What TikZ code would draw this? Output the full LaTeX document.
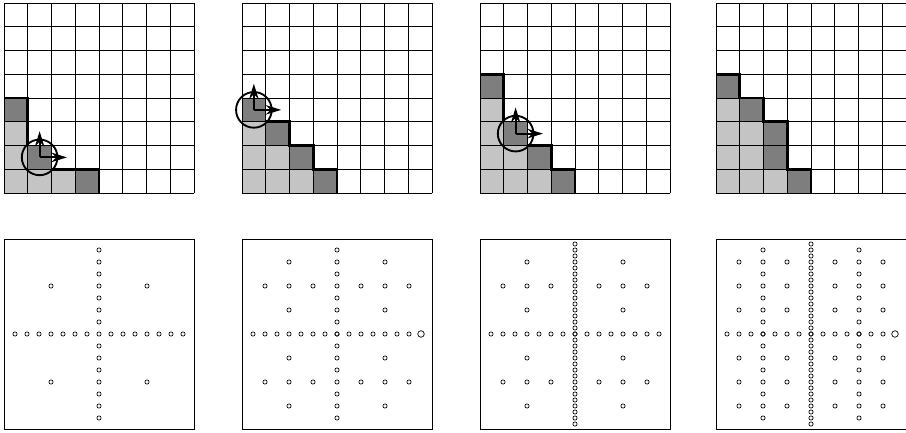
\documentclass[tikz,border=0pt]{standalone}
\usepackage{tikz}
\usetikzlibrary{arrows.meta}
\definecolor{halftone}{HTML}{C4C4C4}
\definecolor{shadow}{HTML}{7E7E7E}

\begin{document}
\begin{tikzpicture}[x=0.03cm, y=0.03cm,
    gridline/.style={black, line width=0.8pt},
    stair/.style={black, line width=2.5pt, line join=miter},
    probe/.style={black, line width=1.6pt},
    probearrow/.style={black, line width=1.6pt, -{Stealth[length=13pt, width=8pt, inset=4pt]}},
    sample/.style={black, line width=0.6pt},
    frame/.style={black, line width=0.8pt}]
    \useasboundingbox (0,0) rectangle (906,433);

    % Top row: staircase on the 8x8 grid
    % Panel 1
    \begin{scope}[shift={(4,240)}, scale=23.75]
        \fill[halftone] (0,0) rectangle (3,1) (0,1) rectangle (1,3);
        \fill[shadow] (0,3) rectangle (1,4) (1,1) rectangle (2,2) (3,0) rectangle (4,1);
        \foreach \k in {0,...,8}
            \draw[gridline] (\k,0) -- (\k,8) (0,\k) -- (8,\k);
        \draw[stair] (0,4) -- (1,4) -- (1,2);
        \draw[stair] (2,1) -- (4,1) -- (4,0);
        \coordinate (p1) at (1.5,1.5);
        \draw[probe] (p1) circle (0.75);
        \draw[probearrow] (p1) -- ++(0,1.1);
        \draw[probearrow] (p1) -- ++(1.15,0);
    \end{scope}

    % Panel 2
    \begin{scope}[shift={(242,240)}, scale=23.75]
        \fill[halftone] (0,0) rectangle (3,1) (0,1) rectangle (2,2) (0,2) rectangle (1,3);
        \fill[shadow] (0,3) rectangle (1,4) (1,2) rectangle (2,3) (2,1) rectangle (3,2) (3,0) rectangle (4,1);
        \foreach \k in {0,...,8}
            \draw[gridline] (\k,0) -- (\k,8) (0,\k) -- (8,\k);
        \draw[stair] (1,3) -- (2,3) -- (2,2) -- (3,2) -- (3,1) -- (4,1) -- (4,0);
        \coordinate (p2) at (0.5,3.5);
        \draw[probe] (p2) circle (0.75);
        \draw[probearrow] (p2) -- ++(0,1.1);
        \draw[probearrow] (p2) -- ++(1.15,0);
    \end{scope}

    % Panel 3
    \begin{scope}[shift={(480,240)}, scale=23.75]
        \fill[halftone] (0,0) rectangle (3,1) (0,1) rectangle (2,2) (0,2) rectangle (1,4);
        \fill[shadow] (0,4) rectangle (1,5) (1,2) rectangle (2,3) (2,1) rectangle (3,2) (3,0) rectangle (4,1);
        \foreach \k in {0,...,8}
            \draw[gridline] (\k,0) -- (\k,8) (0,\k) -- (8,\k);
        \draw[stair] (0,5) -- (1,5) -- (1,3);
        \draw[stair] (2,2) -- (3,2) -- (3,1) -- (4,1) -- (4,0);
        \coordinate (p3) at (1.5,2.5);
        \draw[probe] (p3) circle (0.75);
        \draw[probearrow] (p3) -- ++(0,1.1);
        \draw[probearrow] (p3) -- ++(1.15,0);
    \end{scope}

    % Panel 4
    \begin{scope}[shift={(716,240)}, scale=23.75]
        \fill[halftone] (0,0) rectangle (3,1) (0,1) rectangle (2,3) (0,3) rectangle (1,4);
        \fill[shadow] (0,4) rectangle (1,5) (1,3) rectangle (2,4) (2,1) rectangle (3,3) (3,0) rectangle (4,1);
        \foreach \k in {0,...,8}
            \draw[gridline] (\k,0) -- (\k,8) (0,\k) -- (8,\k);
        \draw[stair] (0,5) -- (1,5) -- (1,4) -- (2,4) -- (2,3) -- (3,3) -- (3,1) -- (4,1) -- (4,0);
    \end{scope}

    % Bottom row: sample points
    \foreach \px in {4,242,480,716}
        \draw[frame] (\px,4) rectangle ++(190,190);

    % Panel 1
    \begin{scope}[shift={(99,99)}, x=0.36cm, y=0.36cm]
        \foreach \k in {-7,...,7}
            \draw[sample] (\k,0) circle[radius=1.8pt] (0,\k) circle[radius=1.8pt];
        \foreach \sx in {-1,1}
            \foreach \sy in {-1,1}
                \draw[sample] (\sx*4,\sy*4) circle[radius=1.8pt];
    \end{scope}

    % Panel 2
    \begin{scope}[shift={(337,99)}, x=0.36cm, y=0.36cm]
        \foreach \k in {-7,...,6}
            \draw[sample] (\k,0) circle[radius=1.8pt];
        \foreach \k in {-7,...,7}
            \draw[sample] (0,\k) circle[radius=1.8pt];
        \foreach \u/\v in {4/4,2/4,6/4,4/2,4/6}
            \foreach \sx in {-1,1}
                \foreach \sy in {-1,1}
                    \draw[sample] (\sx*\u,\sy*\v) circle[radius=1.8pt];
        \draw[sample] (7,0) circle[radius=2.8pt];
    \end{scope}

    % Panel 3
    \begin{scope}[shift={(575,99)}, x=0.36cm, y=0.36cm]
        \foreach \k in {-7,...,7}
            \draw[sample] (\k,0) circle[radius=1.8pt];
        \foreach \k in {-7.5,-7,...,7.5}
            \draw[sample] (0,\k) circle[radius=1.8pt];
        \foreach \u/\v in {4/4,2/4,6/4,4/2,4/6}
            \foreach \sx in {-1,1}
                \foreach \sy in {-1,1}
                    \draw[sample] (\sx*\u,\sy*\v) circle[radius=1.8pt];
    \end{scope}

    % Panel 4
    \begin{scope}[shift={(811,99)}, x=0.36cm, y=0.36cm]
        \foreach \k in {-7,...,6}
            \draw[sample] (\k,0) circle[radius=1.8pt];
        \foreach \k in {-7.5,-7,...,7.5}
            \draw[sample] (0,\k) circle[radius=1.8pt];
        \foreach \k in {-7,...,7}
            \draw[sample] (-4,\k) circle[radius=1.8pt] (4,\k) circle[radius=1.8pt];
        \foreach \u in {2,6}
            \foreach \v in {2,4,6}
                \foreach \sx in {-1,1}
                    \foreach \sy in {-1,1}
                        \draw[sample] (\sx*\u,\sy*\v) circle[radius=1.8pt];
        \draw[sample] (7,0) circle[radius=2.8pt];
    \end{scope}
\end{tikzpicture}
\end{document}
